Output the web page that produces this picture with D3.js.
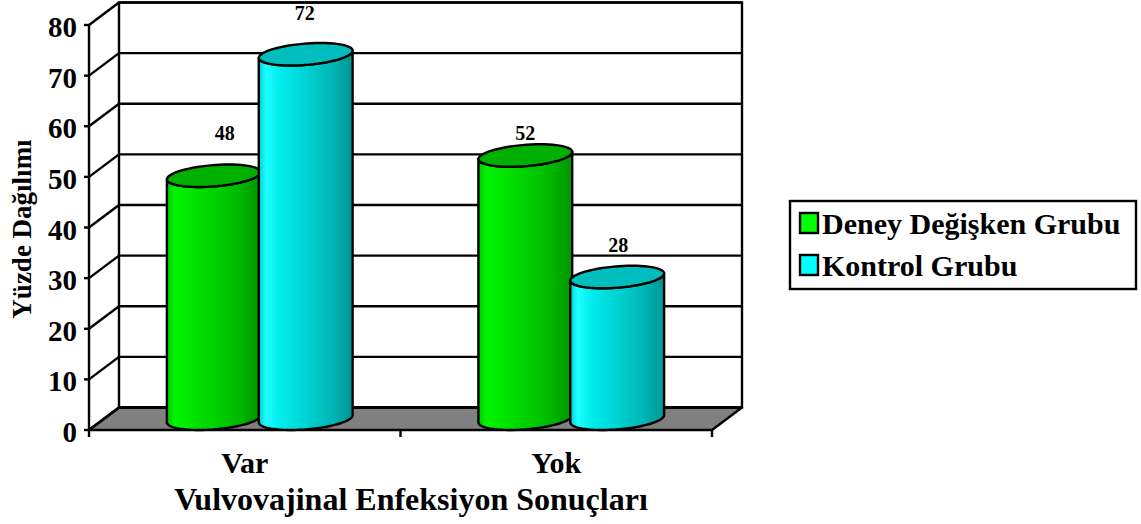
<!DOCTYPE html>
<html>
<head>
<meta charset="utf-8">
<script src="https://cdn.jsdelivr.net/npm/d3@7"></script>
<style>
  html, body { margin: 0; padding: 0; background: #ffffff; }
  svg text { font-family: "Liberation Serif", "Times New Roman", serif; font-weight: bold; fill: #000; }
</style>
</head>
<body>
<svg id="chart" width="1141" height="524"></svg>
<script>
// Data
const categories = ["Var", "Yok"];
const seriesNames = ["Deney Değişken Grubu", "Kontrol Grubu"];
const deneyValues = [48, 52];
const kontrolValues = [72, 28];
const yTickValues = [0, 10, 20, 30, 40, 50, 60, 70, 80];
const xAxisTitle = "Vulvovajinal Enfeksiyon Sonuçları";
const yAxisTitle = "Yüzde Dağılımı";

// Label nudges (dx, dy) per series, per category
const labelNudge = [
  [[11, -36], [0, -16]],
  [[-1, -34], [1, -25]]
];

const seriesValues = [deneyValues, kontrolValues];
const seriesStyle = [
  { side: ["#00c800", "#00f400", "#00ea00", "#00d200", "#00b400", "#009400"], top: "#00b000", swatch: "#00ff00" },
  { side: ["#00d0d0", "#1effff", "#00eeee", "#00d2d2", "#00b4b4", "#009494"], top: "#00bebe", swatch: "#00ffff" }
];

const svg = d3.select("#chart");

// 3D box geometry: front plane + depth offset
const depth = { dx: 30, dy: -22.5 };
const front = { left: 89, right: 712, top: 25, bottom: 430 };

const y = d3.scaleLinear().domain([0, 80]).range([front.bottom, front.top]);
const x0 = d3.scaleBand().domain(categories).range([front.left, front.right])
  .paddingInner(0.41).paddingOuter(0.205);
const x1 = d3.scaleBand().domain(d3.range(seriesNames.length)).range([0, x0.bandwidth()]);

const ink = "#000";
const lw = 2.4;

// Gradients for cylinder sides
const defs = svg.append("defs");
seriesStyle.forEach((st, i) => {
  const g = defs.append("linearGradient").attr("id", "side" + i)
    .attr("x1", "0%").attr("x2", "100%").attr("y1", "0%").attr("y2", "0%");
  const offs = [0, 0.08, 0.22, 0.5, 0.8, 1];
  st.side.forEach((c, k) => g.append("stop").attr("offset", offs[k]).attr("stop-color", c));
});

// Floor
const floorPts = [
  [front.left, y(0)], [front.right, y(0)],
  [front.right + depth.dx, y(0) + depth.dy], [front.left + depth.dx, y(0) + depth.dy]
];
svg.append("polygon").attr("points", floorPts.map(p => p.join(",")).join(" "))
  .attr("fill", "#808080").attr("stroke", ink).attr("stroke-width", lw).attr("stroke-linejoin", "round");

// Back wall
const backL = front.left + depth.dx, backR = front.right + depth.dx;
svg.append("rect").attr("x", backL).attr("y", y(80) + depth.dy)
  .attr("width", backR - backL).attr("height", y(0) - y(80))
  .attr("fill", "none").attr("stroke", ink).attr("stroke-width", lw);

// Gridlines on back wall and left wall
yTickValues.forEach(v => {
  svg.append("line").attr("x1", backL).attr("x2", backR)
    .attr("y1", y(v) + depth.dy).attr("y2", y(v) + depth.dy)
    .attr("stroke", ink).attr("stroke-width", lw);
  svg.append("line").attr("x1", front.left).attr("x2", backL)
    .attr("y1", y(v)).attr("y2", y(v) + depth.dy)
    .attr("stroke", ink).attr("stroke-width", lw);
});

// Front vertical axis with ticks
svg.append("line").attr("x1", front.left).attr("x2", front.left)
  .attr("y1", y(80)).attr("y2", y(0)).attr("stroke", ink).attr("stroke-width", lw);
yTickValues.forEach(v => {
  svg.append("line").attr("x1", front.left - 5).attr("x2", front.left)
    .attr("y1", y(v)).attr("y2", y(v)).attr("stroke", ink).attr("stroke-width", lw);
  svg.append("text").attr("x", front.left - 12).attr("y", y(v) + 12)
    .attr("text-anchor", "end").attr("font-size", 29).text(v);
});

// Category ticks along the front floor edge
const catEdges = [front.left].concat(categories.map(c => x0(c) + x0.bandwidth() + x0.step() * 0.205));
catEdges.forEach(xe => {
  svg.append("line").attr("x1", xe).attr("x2", xe).attr("y1", y(0)).attr("y2", y(0) + 7)
    .attr("stroke", ink).attr("stroke-width", lw);
});

// Cylinders
const rx = x1.bandwidth() / 2 - 1.5;
const sx = depth.dx / 2, sy = -depth.dy / 2;
const t0 = Math.atan2(sx, rx);
const ePt = (cx, cy, t) => [cx + rx * Math.cos(t) + sx * Math.sin(t), cy - sy * Math.sin(t)];
const yMid = v => y(v) + depth.dy / 2;
const N = 64;

seriesValues.forEach((vals, si) => {
  categories.forEach((c, ci) => {
    const v = vals[ci];
    const cx = x0(c) + x1(si) + x1.bandwidth() / 2 + depth.dx / 2;
    const cyTop = yMid(v), cyBot = yMid(0);
    const topArc = d3.range(N + 1).map(k => ePt(cx, cyTop, t0 + Math.PI + Math.PI * k / N));
    const botArc = d3.range(N + 1).map(k => ePt(cx, cyBot, t0 + 2 * Math.PI - Math.PI * k / N));
    const body = topArc.concat(botArc);
    svg.append("path").attr("d", d3.line()(body) + "Z")
      .attr("fill", `url(#side${si})`).attr("stroke", ink).attr("stroke-width", lw)
      .attr("stroke-linejoin", "round");
    const topEll = d3.range(N).map(k => ePt(cx, cyTop, 2 * Math.PI * k / N));
    svg.append("path").attr("d", d3.line()(topEll) + "Z")
      .attr("fill", seriesStyle[si].top).attr("stroke", ink).attr("stroke-width", lw);
    const nd = labelNudge[si][ci];
    svg.append("text").attr("x", cx + nd[0]).attr("y", cyTop + nd[1])
      .attr("text-anchor", "middle").attr("font-size", 20).text(v);
  });
});

// Category labels
categories.forEach(c => {
  svg.append("text").attr("x", x0(c) + x0.bandwidth() / 2).attr("y", 473)
    .attr("text-anchor", "middle").attr("font-size", 30).text(c);
});

// Axis titles
svg.append("text").attr("x", 411).attr("y", 510).attr("text-anchor", "middle")
  .attr("font-size", 32).text(xAxisTitle);
svg.append("text").attr("transform", "translate(31,229) rotate(-90)")
  .attr("text-anchor", "middle").attr("font-size", 27).text(yAxisTitle);

// Legend
const lg = svg.append("g");
lg.append("rect").attr("x", 790).attr("y", 201).attr("width", 346).attr("height", 88)
  .attr("fill", "#fff").attr("stroke", ink).attr("stroke-width", lw);
seriesNames.forEach((name, i) => {
  const yy = 213 + i * 42;
  lg.append("rect").attr("x", 800).attr("y", yy).attr("width", 18).attr("height", 20)
    .attr("fill", seriesStyle[i].swatch).attr("stroke", ink).attr("stroke-width", lw);
  lg.append("text").attr("x", 822).attr("y", yy + 21).attr("font-size", 30).text(name);
});
</script>
</body>
</html>
